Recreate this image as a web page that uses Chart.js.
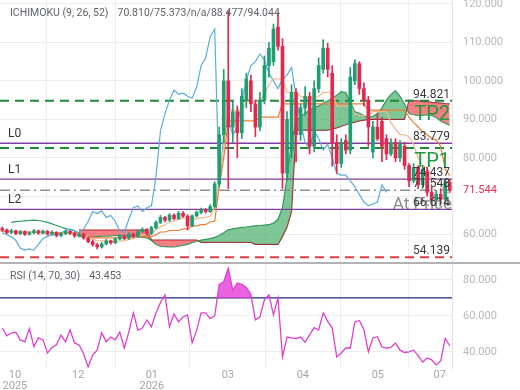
<!DOCTYPE html>
<html>
<head>
<meta charset="utf-8">
<script src="https://cdn.jsdelivr.net/npm/chart.js@4.4.1/dist/chart.umd.min.js"></script>
<style>
  html, body { margin: 0; padding: 0; background: #fff; }
  canvas { display: block; }
</style>
</head>
<body>
<canvas id="chart" width="520" height="390"></canvas>
<script>
// ---- data (bar index 0..99) ----
const opens = [61.6,61.2,60.6,61.0,60.3,60.8,60.1,60.5,61.0,60.4, 60.9,60.2,60.6,59.8,60.3,60.9,60.4,59.7,60.2,59.1,
               58.2,57.4,56.8,57.6,58.4,57.9,58.9,59.6,59.0,60.2, 59.5,60.8,61.4,60.3,61.8,63.2,64.5,63.8,65.1,64.2,
               65.6,64.8,62.3,64.9,65.8,66.4,66.0,67.3,73.2,86.0, 100.0,88.0,92.0,86.5,95.0,100.0,94.0,88.0,95.0,104.0,
               105.0,114.0,109.0,76.0,82.0,97.0,86.0,93.0,96.0,83.0, 98.0,103.0,108.5,102.0,84.0,78.5,84.5,82.0,100.0,104.5,
               98.0,95.0,81.5,88.0,89.5,85.0,81.0,84.0,80.0,83.0, 78.0,74.0,77.5,73.0,76.5,71.0,69.0,70.5,69.2,73.6];
const highs = [62.0,61.5,61.4,61.2,61.1,61.0,60.8,61.4,61.2,61.2, 61.1,61.0,60.8,60.6,61.3,61.1,60.6,60.5,60.4,59.4,
               58.6,57.8,58.0,58.8,58.6,59.2,60.0,59.9,60.5,60.4, 61.2,61.8,61.6,62.2,63.6,65.0,64.8,65.5,65.4,66.1,
               66.0,65.2,65.2,66.2,66.9,66.8,67.8,73.8,88.0,103.0, 118.2,95.0,93.5,98.0,102.0,101.5,95.0,97.0,106.5,110.0,
               114.8,117.8,111.0,92.0,99.0,98.0,94.0,98.5,97.0,100.0, 106.0,110.7,109.8,104.0,86.0,85.0,86.0,103.5,105.5,105.0,
               99.5,96.0,89.5,91.5,90.5,86.0,85.0,85.0,84.5,84.0, 78.5,78.5,78.0,78.0,77.5,72.5,71.5,72.0,74.3,74.5];
const lows  = [60.8,60.2,60.3,60.0,60.0,59.8,59.9,60.2,60.1,60.2, 59.9,59.8,59.4,59.5,60.0,60.0,59.3,59.4,58.8,57.9,
               57.0,56.3,56.5,57.3,57.5,57.7,58.6,58.7,58.8,59.2, 59.3,60.5,59.9,60.0,61.5,62.9,63.3,63.5,63.9,64.0,
               64.5,61.2,62.0,64.6,65.4,65.6,65.8,66.9,72.5,84.0, 72.0,84.0,80.0,85.0,93.0,92.0,85.5,87.0,94.0,101.0,
               104.0,108.0,72.0,74.0,80.0,79.0,84.5,91.0,81.0,81.5, 97.0,102.0,101.0,77.8,76.0,77.5,81.0,81.0,99.0,96.5,
               93.5,83.0,80.0,84.5,79.0,79.5,80.5,79.0,79.0,77.0, 72.5,73.5,72.0,72.0,70.0,67.8,67.5,68.0,68.5,71.0];
const closes = [61.2,60.6,61.0,60.3,60.8,60.1,60.5,61.0,60.4,60.9, 60.2,60.6,59.8,60.3,60.9,60.4,59.7,60.2,59.1,58.2,
                57.4,56.8,57.6,58.4,57.9,58.9,59.6,59.0,60.2,59.5, 60.8,61.4,60.3,61.8,63.2,64.5,63.8,65.1,64.2,65.6,
                64.8,62.3,64.9,65.8,66.4,66.0,67.3,73.2,86.0,100.0, 88.0,92.0,86.5,96.0,100.5,94.0,88.0,95.0,104.0,108.5,
                113.5,109.0,76.0,90.0,97.0,86.0,93.0,96.0,83.0,98.0, 104.0,108.5,103.0,84.0,78.5,84.0,82.0,101.0,104.5,98.0,
                95.0,88.0,88.0,85.0,83.0,81.0,84.0,80.0,83.5,78.0, 74.0,77.5,73.0,77.0,71.0,69.0,70.5,69.2,73.8,71.544];

const tenkan = [61.0,61.0,60.9,60.9,60.7,60.6,60.6,60.6,60.6,60.6,60.6,60.5,60.4,60.4,60.4,60.4,60.3,60.3,
                59.9,59.3,58.8,58.5,58.4,58.4,58.2,58.2,58.3,58.5,58.7,59.0,59.4,60.0,60.1,
                60.6,61.3,62.1,62.6,63.3,63.6,64.0,64.4,64.0,64.0,64.2,64.4,64.5,64.8,
                67.0,74.6,83.0,92.4, 92.4,92.4,92.4,94.6,94.6,94.6, 95.0,96.5,99.0,100.5,100.5,100.5,
                97.0,97.0,97.0,96.0,95.5,95.5,95.5,96.0,97.0,97.0,97.0,
                93.5,93.5,93.5,93.5,91.5,91.0,91.0,91.0,92.0,92.0,92.0,92.0,
                89.0,87.5,86.0,86.0,85.5,83.5,80.0,78.0,77.5,74.5,73.5,73.0,71.0,70.810];
const kijun = [60.8,60.8,60.8,60.8,60.7,60.7,60.7,60.7,60.6,60.6,60.6,60.6,60.5,60.5,60.5,60.5,60.4,60.4,
               60.0,59.5,59.2,59.2,59.2,59.2,59.2,59.2,59.2,59.2,59.4,59.4,59.5,59.5,59.5,
               59.5,60.0,60.7,60.7,61.1,61.1,61.1,61.5,61.5,62.3,62.3,62.6,62.6,63.3,
               63.5,72.5,80.0,89.6, 89.6,89.6,89.6,89.6,89.6,89.6, 90.6,90.6,90.6,90.6,90.6,
               94.0,94.0,94.0,94.0,94.0,94.0,94.0,94.0,94.0,94.0,94.0,94.0,94.0,94.0,94.0,94.0,94.0,94.0,94.0,
               92.4,92.4,92.4,92.4,92.4,92.4,92.4,92.4,92.4,
               90.5,89.2,88.0,86.8,86.0,85.0,84.6,83.0,77.0,75.373];
const senkouA = [null,null,63.2,63.4,63.5,63.6,63.7,63.8,63.7,63.5,63.2,62.8,62.4,62.0,61.6,61.3,61.0,59.6,
                 59.5,59.4,59.4,59.5,59.6,59.6,59.7,59.8,59.8,59.7,59.6,59.5,59.4,59.3,59.2,
                 58.5,57.5,57.0,56.9,56.8,56.8,57.0,57.2,57.5,57.9,58.3,58.6,58.8,59.0,
                 59.3,59.8,60.5,61.3,61.5,61.7,61.9,62.0,62.2,62.3,62.4,62.5,62.6,63.0,64.0,67.0,75.0,84.0,
                 89.5,90.8,91.5,92.4,93.0,93.5,94.2,94.8,95.5,96.3,97.2,97.0,94.5,92.0,91.6,
                 91.0,90.6,90.8,91.5,93.0,95.0,96.5,97.4,96.0,94.0,
                 91.5,91.2,91.0,91.0,91.2,91.0,90.5,89.6,89.0,88.477];
const senkouB = [null,null,null,null,null,null,null,null,null,null,null,null,null,null,null,null,null,
                 61.2,61.2,61.2,61.2,61.2,61.2,61.2,61.2,61.2,61.2,61.2,61.2,61.2,61.2,61.2,61.2,
                 58.6,58.6,58.6,58.6,58.6,58.6,58.6,58.6,58.6,58.6,58.6,
                 58.0,58.0,58.0,58.0,58.0,58.0,58.0,58.0,58.0,58.0,58.0,58.0,
                 57.5,57.5,57.5,57.5,57.5,57.5, 59.5,62.0,66.0,
                 87.2,87.2,87.2,87.2,87.2,87.2,87.2,87.2,
                 87.5,87.8,88.2,88.6,89.0,89.3,89.6,89.8,90.0,
                 90.0,90.0,90.0,90.0,90.0,90.0,90.0,90.0,
                 95.0,94.8,94.8,94.6,94.6,94.4,94.3,94.2,94.1,94.044];
const chikou = [60.5,60.0,59.5,58.5,56.5,56.0,56.3,56.0,57.5,59.0,59.5,60.2,59.8,60.5,61.0,61.5,61.0,60.5,
                61.5,63.5,66.0,65.5,66.2,64.5,65.0,63.5,61.0,60.5,64.0,67.0,67.5,66.0,67.0,
                67.5,75.0,87.0,91.5,95.0,97.6,96.5,96.8,96.0,95.5,98.4,104.0,106.0,111.5,
                113.5,71.5,86.0,90.0,86.0,88.0,95.0,100.0,104.0,105.0,107.0,105.5,102.0,100.0,
                98.0,100.5,101.5,103.5,96.0,89.0,84.0,82.5,87.0,85.0,82.0,83.5,80.0,76.0,75.5,75.5,
                74.0,72.5,70.5,68.5,67.5,68.0,68.5,73.0,71.0,
                null,null,null,null,null,null,null,null,null,null,null,null,null,null];
const rsi = [53.3,49.0,50.5,51.0,46.7,45.6,53.0,43.0,47.8,46.7,
             39.4,42.5,44.0,49.4,45.6,52.2,45.0,43.9,39.0,31.7,
             38.3,41.0,50.6,45.6,48.3,46.7,51.0,42.2,51.0,61.7,
             52.2,53.3,57.8,54.0,61.5,67.5,71.7,54.0,61.0,56.7,
             59.4,60.6,45.0,52.0,61.7,61.7,58.5,60.0,77.5,79.0,
             86.5,74.4,78.3,77.5,75.8,72.0,57.8,59.4,69.0,71.7,
             60.6,70.0,37.2,48.3,47.8,47.5,48.3,45.5,49.5,53.5,
             52.2,61.7,57.0,53.3,37.2,39.4,42.2,42.2,56.7,57.5,
             52.5,40.0,47.8,48.5,42.8,42.2,42.5,45.0,41.0,39.7,
             40.0,41.0,38.0,34.4,36.7,35.6,32.8,35.0,47.5,43.453];

const levelNames  = ["TP2", "L0", "TP1", "L1", "At Price", "L2", "SL"];
const levelValues = [94.821, 83.779, 82.55, 74.437, 71.548, 66.614, 54.139];
const rsiOverbought = 70;

const monthTickPos = [2.8, 16.8, 33.1, 49.9, 66.5, 83.1, 96.8];
const monthTickLabels = [["10", "2025"], "12", ["01", "2026"], "03", "04", "05", "07"];
const priceTicks = [60, 70, 80, 90, 100, 110, 120];
const rsiTicks = [40, 60, 80];

// ---- styles ----
const FONT = "Roboto, 'Noto Sans', sans-serif";
const UP = "#1f9e72", DOWN = "#e3284d";
const GRID = "#eeeeee";
const X_MIN = -0.5, X_MAX = 99.5;
const LEVEL_STYLE = {
    "TP2": { color: "#1f8a36", width: 2, dash: [9, 6] },
    "TP1": { color: "#1f8a36", width: 2, dash: [9, 6] },
    "L0": { color: "#7d3f9e", width: 1.3, dash: [] },
    "L1": { color: "#7d3f9e", width: 1.3, dash: [] },
    "L2": { color: "#7d3f9e", width: 1.3, dash: [] },
    "At Price": { color: "#8e8e8e", width: 1.5, dash: [10, 4, 2, 4] },
    "SL": { color: "#e23b3b", width: 2, dash: [9, 6] }
};

const idx = closes.map((_, i) => i);
const pts = arr => arr.map((v, i) => ({ x: i, y: v }));
const hline = v => [{ x: X_MIN, y: v }, { x: X_MAX, y: v }];
const candleColor = ctx => closes[ctx.dataIndex] >= opens[ctx.dataIndex] ? UP : DOWN;

const lineDs = (label, data, color, order, extra) => Object.assign({
    type: "line", label, data, yAxisID: "y", borderColor: color, borderWidth: 1.2,
    pointRadius: 0, tension: 0, fill: false, order, spanGaps: false
}, extra || {});

const levelSets = levelValues.map((v, k) => {
    const st = LEVEL_STYLE[levelNames[k]];
    return lineDs(levelNames[k], hline(v), st.color, 6, { borderWidth: st.width, borderDash: st.dash });
});

const datasets = [
    { type: "bar", label: "body", data: idx.map(i => ({ x: i, y: [opens[i], closes[i]] })),
      yAxisID: "y", backgroundColor: candleColor, barThickness: 3, grouped: false, minBarLength: 1, order: 1 },
    { type: "bar", label: "wick", data: idx.map(i => ({ x: i, y: [lows[i], highs[i]] })),
      yAxisID: "y", backgroundColor: candleColor, barThickness: 1, grouped: false, order: 2 },
    lineDs("tenkan", pts(tenkan), "#f6b58a", 3),
    lineDs("kijun", pts(kijun), "#ec7d36", 4),
    lineDs("chikou", pts(chikou), "#5aaedb", 5),
    ...levelSets,
    lineDs("senkouA", pts(senkouA), "#2e9a5c", 8, {
        fill: { target: "+1", above: "rgba(58,168,96,0.65)", below: "rgba(242,78,88,0.72)" } }),
    lineDs("senkouB", pts(senkouB), "#9a2236", 9),
    { type: "line", label: "rsi", data: pts(rsi), yAxisID: "yr", borderColor: "#df3fd0", borderWidth: 1.3,
      pointRadius: 0, tension: 0, order: 1,
      fill: { target: { value: rsiOverbought }, above: "rgba(228,60,216,0.8)", below: "rgba(0,0,0,0)" } },
    { type: "line", label: "ob", data: hline(rsiOverbought), yAxisID: "yr", borderColor: "#232a7c",
      borderWidth: 1.3, pointRadius: 0, order: 2 }
];

const fmt = v => v.toFixed(3);

const overlay = {
    id: "overlay",
    afterDatasetsDraw(chart) {
        const { ctx, chartArea: a, scales } = chart;
        const y = scales.y, yr = scales.yr;
        ctx.save();
        // panel separator
        ctx.strokeStyle = "#9a9a9a";
        ctx.lineWidth = 1.5;
        ctx.beginPath();
        ctx.moveTo(0, yr.top);
        ctx.lineTo(chart.width, yr.top);
        ctx.stroke();

        ctx.textBaseline = "middle";
        ctx.textAlign = "left";
        // indicator headers
        ctx.font = "10.5px " + FONT;
        ctx.fillStyle = "#5f6368";
        const last = tenkan.length - 1;
        const head = "ICHIMOKU (9, 26, 52)";
        ctx.fillText(head, 10, 13);
        ctx.fillText([fmt(tenkan[last]), fmt(kijun[last]), "n/a", fmt(senkouA[last]), fmt(senkouB[last])].join("/"),
                     10 + ctx.measureText(head).width + 9, 13);
        const rsiHead = "RSI (14, 70, 30)";
        ctx.fillText(rsiHead, 10, yr.top + 13);
        ctx.fillText(fmt(rsi[rsi.length - 1]), 10 + ctx.measureText(rsiHead).width + 9, yr.top + 13);

        // level tags
        levelValues.forEach((v, k) => {
            const name = levelNames[k];
            const py = y.getPixelForValue(v);
            if (name[0] === "L") {
                ctx.font = "12px " + FONT;
                ctx.fillStyle = "#333";
                ctx.textAlign = "left";
                ctx.fillText(name, 8, py - 9);
            }
            if (name !== "TP1") {
                ctx.font = "12px " + FONT;
                ctx.fillStyle = "#3a3a3a";
                ctx.textAlign = "right";
                ctx.fillText(fmt(v), a.right - 2, py - 6);
            }
            if (name === "TP1" || name === "TP2") {
                ctx.font = "20px " + FONT;
                ctx.fillStyle = "#1f9a3c";
                ctx.textAlign = "right";
                ctx.fillText(name, a.right - 2, py + 14);
            }
            if (name === "At Price") {
                ctx.font = "17px " + FONT;
                ctx.fillStyle = "#8c8c8c";
                ctx.textAlign = "right";
                ctx.fillText(name, a.right, py + 14);
            }
        });

        // current price tag on the axis
        ctx.font = "11px " + FONT;
        ctx.fillStyle = "#e0305a";
        ctx.textAlign = "left";
        ctx.fillText(fmt(closes[closes.length - 1]), a.right + 11, y.getPixelForValue(closes[closes.length - 1]));
        ctx.restore();
    }
};

const noPad = s => { s.width = 68; s.paddingTop = 0; s.paddingBottom = 0; };

new Chart(document.getElementById("chart"), {
    type: "line",
    data: { datasets },
    options: {
        responsive: false,
        animation: false,
        events: [],
        layout: { autoPadding: false, padding: 0 },
        plugins: { legend: { display: false }, tooltip: { enabled: false } },
        scales: {
            x: {
                type: "linear", min: X_MIN, max: X_MAX, offset: false,
                afterBuildTicks: s => { s.ticks = monthTickPos.map(v => ({ value: v })); },
                afterFit: s => { s.height = 22; s.paddingLeft = 0; s.paddingRight = 0; },
                ticks: {
                    autoSkip: false, maxRotation: 0, padding: 2, color: "#a6a6a6",
                    font: { family: FONT, size: 11, lineHeight: 1.0 },
                    callback: (v, i) => monthTickLabels[i]
                },
                grid: { color: GRID, drawTicks: false },
                border: { display: false }
            },
            y: {
                position: "right", stack: "panels", stackWeight: 2.505,
                min: 52.64, max: 121.04,
                afterBuildTicks: s => { s.ticks = priceTicks.map(v => ({ value: v })); },
                afterFit: noPad,
                ticks: {
                    padding: 11, color: "#b8b8b8", font: { family: FONT, size: 11 },
                    callback: v => v === 70 ? "" : fmt(v)
                },
                grid: { color: GRID, drawTicks: false },
                border: { display: true, color: "#e2e2e2" }
            },
            yr: {
                position: "right", stack: "panels", stackWeight: 1,
                min: 31.1, max: 89.4,
                afterBuildTicks: s => { s.ticks = rsiTicks.map(v => ({ value: v })); },
                afterFit: noPad,
                ticks: {
                    padding: 11, color: "#b8b8b8", font: { family: FONT, size: 11 },
                    callback: v => fmt(v)
                },
                grid: { color: GRID, drawTicks: false },
                border: { display: true, color: "#e2e2e2" }
            }
        }
    },
    plugins: [overlay]
});
</script>
</body>
</html>
